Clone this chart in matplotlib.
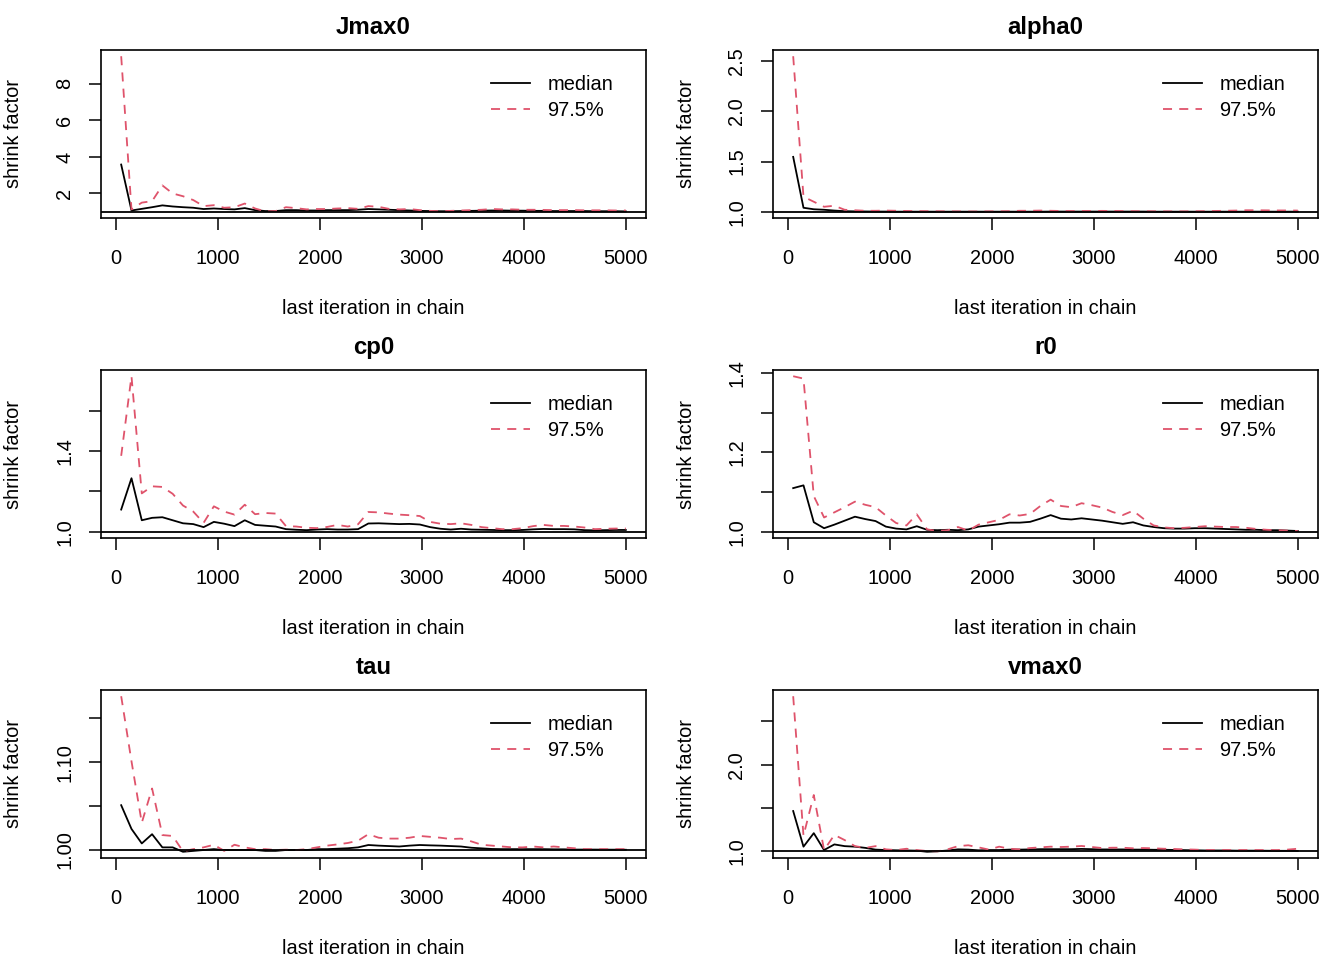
import matplotlib
matplotlib.use("Agg")
import matplotlib.pyplot as plt
import numpy as np

# last iteration in chain (50 bins)
last_iter = np.linspace(50, 5000, 50)

jmax0_med = [3.58, 1.07, 1.16, 1.25, 1.35, 1.29, 1.25, 1.22, 1.15, 1.18,
             1.15, 1.13, 1.20, 1.09, 1.04, 1.04, 1.09, 1.09, 1.07, 1.07,
             1.09, 1.09, 1.09, 1.11, 1.15, 1.13, 1.11, 1.09, 1.07, 1.05,
             1.04, 1.03, 1.03, 1.04, 1.05, 1.06, 1.07, 1.07, 1.06, 1.06,
             1.05, 1.05, 1.04, 1.04, 1.04, 1.04, 1.03, 1.03, 1.03, 1.02]
jmax0_975 = [9.5, 1.13, 1.50, 1.58, 2.44, 2.00, 1.85, 1.64, 1.31, 1.36,
             1.22, 1.25, 1.45, 1.18, 1.02, 1.04, 1.25, 1.20, 1.13, 1.15,
             1.15, 1.18, 1.20, 1.16, 1.31, 1.27, 1.16, 1.13, 1.15, 1.09,
             1.05, 1.03, 1.05, 1.07, 1.09, 1.11, 1.15, 1.13, 1.13, 1.11,
             1.11, 1.10, 1.09, 1.09, 1.09, 1.08, 1.08, 1.08, 1.07, 1.07]

alpha0_med = [1.547, 1.04, 1.025, 1.02, 1.012, 1.006, 1.004, 1.003, 1.002, 1.002,
              1.001, 1.001, 1.001, 1.001, 1.001, 1.001, 1.001, 1.001, 1.001, 1.001,
              1.001, 1.001, 1.001, 1.001, 1.001, 1.002, 1.002, 1.002, 1.002, 1.002,
              1.002, 1.002, 1.002, 1.002, 1.002, 1.001, 1.001, 1.001, 1.001, 1.001,
              1.001, 1.001, 1.001, 1.001, 1.001, 1.001, 1.001, 1.001, 1.001, 1.001]
alpha0_975 = [2.55, 1.15, 1.10, 1.05, 1.06, 1.02, 1.015, 1.01, 1.01, 1.012,
              1.01, 1.008, 1.007, 1.006, 1.005, 1.004, 1.004, 1.003, 1.003, 1.004,
              1.005, 1.006, 1.01, 1.01, 1.012, 1.01, 1.008, 1.007, 1.008, 1.008,
              1.009, 1.008, 1.007, 1.006, 1.005, 1.005, 1.004, 1.004, 1.004, 1.005,
              1.006, 1.008, 1.01, 1.012, 1.015, 1.015, 1.014, 1.013, 1.013, 1.012]

cp0_med = [1.11, 1.265, 1.057, 1.069, 1.072, 1.057, 1.042, 1.038, 1.023, 1.049,
           1.04, 1.028, 1.057, 1.034, 1.03, 1.026, 1.013, 1.01, 1.008, 1.011,
           1.013, 1.011, 1.011, 1.013, 1.041, 1.042, 1.04, 1.038, 1.039, 1.036,
           1.023, 1.015, 1.011, 1.015, 1.011, 1.01, 1.009, 1.008, 1.008, 1.009,
           1.012, 1.014, 1.013, 1.013, 1.012, 1.008, 1.007, 1.008, 1.009, 1.009]
cp0_975 = [1.376, 1.77, 1.19, 1.225, 1.222, 1.188, 1.13, 1.10, 1.044, 1.126,
           1.10, 1.085, 1.134, 1.087, 1.093, 1.09, 1.028, 1.026, 1.02, 1.018,
           1.024, 1.034, 1.026, 1.037, 1.098, 1.096, 1.09, 1.085, 1.082, 1.078,
           1.049, 1.04, 1.038, 1.042, 1.034, 1.023, 1.018, 1.013, 1.013, 1.018,
           1.028, 1.034, 1.029, 1.029, 1.026, 1.021, 1.013, 1.015, 1.016, 1.016]

r0_med = [1.11, 1.117, 1.024, 1.009, 1.018, 1.028, 1.038, 1.032, 1.027, 1.013,
          1.008, 1.006, 1.014, 1.005, 1.004, 1.005, 1.004, 1.006, 1.013, 1.016,
          1.019, 1.023, 1.023, 1.025, 1.033, 1.042, 1.033, 1.031, 1.034, 1.031,
          1.028, 1.024, 1.02, 1.024, 1.016, 1.012, 1.009, 1.008, 1.008, 1.009,
          1.009, 1.008, 1.007, 1.006, 1.005, 1.005, 1.004, 1.004, 1.003, 1.002]
r0_975 = [1.392, 1.386, 1.09, 1.036, 1.049, 1.062, 1.076, 1.068, 1.062, 1.041,
          1.022, 1.016, 1.044, 1.006, 1.002, 1.004, 1.012, 1.003, 1.018, 1.024,
          1.03, 1.044, 1.041, 1.045, 1.065, 1.081, 1.065, 1.062, 1.072, 1.067,
          1.061, 1.05, 1.042, 1.053, 1.033, 1.016, 1.011, 1.009, 1.01, 1.012,
          1.014, 1.013, 1.012, 1.012, 1.01, 1.007, 1.005, 1.004, 1.003, 1.002]

tau_med = [1.051, 1.024, 1.0075, 1.018, 1.003, 1.003, 0.998, 0.999, 1.0, 1.001,
           1.0, 1.0, 1.0, 1.0, 0.999, 0.999, 1.0, 1.0, 1.0, 1.001,
           1.001, 1.0015, 1.002, 1.003, 1.0057, 1.005, 1.0045, 1.004, 1.005, 1.0057,
           1.0053, 1.005, 1.0045, 1.004, 1.0026, 1.0019, 1.0012, 1.001, 1.001, 1.001,
           1.001, 1.001, 1.0008, 1.0008, 1.0005, 1.0005, 1.0005, 1.0004, 1.0004, 1.0003]
tau_975 = [1.175, 1.101, 1.031, 1.07, 1.017, 1.016, 0.9985, 1.001, 1.003, 1.006,
           0.999, 1.006, 1.003, 1.001, 1.001, 1.0, 1.0004, 1.0, 1.001, 1.003,
           1.005, 1.0064, 1.008, 1.0106, 1.018, 1.014, 1.013, 1.013, 1.014, 1.016,
           1.015, 1.014, 1.0125, 1.013, 1.0098, 1.006, 1.005, 1.004, 1.003, 1.003,
           1.004, 1.003, 1.004, 1.003, 1.002, 1.001, 1.001, 1.001, 1.001, 1.001]

vmax0_med = [1.465, 1.054, 1.21, 1.015, 1.08, 1.06, 1.054, 1.04, 1.02, 1.015,
             1.012, 1.01, 1.008, 0.995, 1.0, 1.01, 1.023, 1.02, 1.012, 1.015,
             1.015, 1.02, 1.02, 1.022, 1.025, 1.025, 1.025, 1.025, 1.028, 1.025,
             1.022, 1.022, 1.022, 1.02, 1.02, 1.018, 1.018, 1.016, 1.014, 1.012,
             1.01, 1.01, 1.01, 1.008, 1.008, 1.008, 1.007, 1.006, 1.006, 1.005]
vmax0_975 = [2.79, 1.18, 1.65, 1.015, 1.19, 1.13, 1.06, 1.04, 1.06, 1.023,
             1.015, 1.03, 1.015, 1.004, 1.0, 1.023, 1.06, 1.07, 1.046, 1.02,
             1.054, 1.03, 1.023, 1.038, 1.046, 1.054, 1.05, 1.054, 1.062, 1.05,
             1.038, 1.042, 1.042, 1.035, 1.038, 1.035, 1.03, 1.027, 1.023, 1.02,
             1.015, 1.015, 1.015, 1.015, 1.015, 1.015, 1.015, 1.015, 1.02, 1.03]

titles = ["Jmax0", "alpha0", "cp0", "r0", "tau", "vmax0"]
medians = [jmax0_med, alpha0_med, cp0_med, r0_med, tau_med, vmax0_med]
uppers = [jmax0_975, alpha0_975, cp0_975, r0_975, tau_975, vmax0_975]

# y ticks and which of them carry labels (R drops overlapping ones)
yticks = [[2, 4, 6, 8], [1.0, 1.5, 2.0, 2.5], [1.0, 1.2, 1.4, 1.6],
          [1.0, 1.1, 1.2, 1.3, 1.4], [1.00, 1.05, 1.10, 1.15], [1.0, 1.5, 2.0, 2.5]]
ylabels = [["2", "4", "6", "8"], ["1.0", "1.5", "2.0", "2.5"], ["1.0", "", "1.4", ""],
           ["1.0", "", "1.2", "", "1.4"], ["1.00", "", "1.10", ""], ["1.0", "", "2.0", ""]]
xticks = [0, 1000, 2000, 3000, 4000, 5000]

red = "#DF536B"
plt.rcParams['font.family'] = ['Liberation Sans', 'DejaVu Sans']
plt.rcParams['font.size'] = 14.4

fig = plt.figure(figsize=(13.44, 9.6), dpi=100)

W, H = 1344.0, 960.0
lefts = [101, 773]
tops = [50, 370, 690]
pw, ph = 545, 168

for i in range(6):
    row, col = divmod(i, 2)
    ax = fig.add_axes([lefts[col] / W, 1 - (tops[row] + ph) / H, pw / W, ph / H])
    med = np.array(medians[i])
    up = np.array(uppers[i])

    ax.plot(last_iter, med, color="black", lw=1.3, label="median")
    ax.plot(last_iter, up, color=red, lw=1.3, dashes=(5, 4), label="97.5%")
    ax.axhline(1, color="black", lw=1.3)

    # R style 4% padding
    lo = min(1.0, med.min(), up.min())
    hi = max(up.max(), med.max())
    r = hi - lo
    ax.set_ylim(lo - 0.04 * r, hi + 0.04 * r)
    xr = last_iter[-1] - last_iter[0]
    ax.set_xlim(last_iter[0] - 0.04 * xr, last_iter[-1] + 0.04 * xr)

    ax.set_xticks(xticks)
    ax.set_xticklabels([str(t) for t in xticks])
    ax.set_yticks(yticks[i])
    ax.set_yticklabels(ylabels[i], rotation=90, va="center")
    ax.tick_params(direction="out", length=8.6, width=1.1, pad=13.5, labelsize=14.4)
    ax.tick_params(axis="y", pad=10.5)
    for s in ax.spines.values():
        s.set_linewidth(1.2)

    ax.set_title(titles[i], fontweight="bold", fontsize=17.3, pad=11.5)
    ax.set_xlabel("last iteration in chain", va="center")
    ax.xaxis.set_label_coords(0.5, -91 / ph)
    ax.set_ylabel("shrink factor", va="center")
    ax.yaxis.set_label_coords(-87 / pw, 0.5)

    ax.legend(loc="upper right", frameon=False, bbox_to_anchor=((613 - 101) / pw, 1 - 25 / ph),
              borderaxespad=0, borderpad=0, handlelength=1.95, handletextpad=0.85,
              labelspacing=0.35, fontsize=14.4)

fig.savefig("out.png", dpi=100)
